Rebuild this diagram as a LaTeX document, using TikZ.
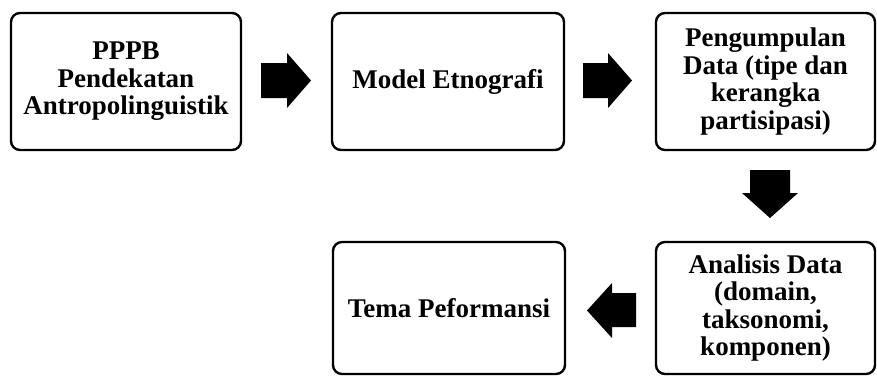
\documentclass[tikz,border=0pt]{standalone}
\usepackage{fontspec}
\setmainfont{Liberation Serif}
\tikzset{
  stagebox/.style={draw, line width=2.4pt, rounded corners=9pt, align=center,
    inner sep=0pt, font=\bfseries\fontsize{27}{27.5}\selectfont}
}
\begin{document}
\begin{tikzpicture}[x=1pt,y=-1pt]

    % Fix the page to the size of the picture
    \useasboundingbox (0,0) rectangle (877,376);

    % Boxes of the top row
    \node[stagebox, minimum width=230pt, minimum height=137pt] (ppb) at (126,81.5)
        {PPPB\\Pendekatan\\Antropolinguistik};
    \node[stagebox, minimum width=232pt, minimum height=137pt] (etno) at (448,81.5)
        {Model Etnografi};
    \node[stagebox, minimum width=219pt, minimum height=137pt] (kumpul) at (765.5,81.5)
        {Pengumpulan\\Data (tipe dan\\kerangka\\partisipasi)};

    % Boxes of the bottom row
    \node[stagebox, minimum width=219pt, minimum height=132pt] (analisis) at (765.5,308)
        {Analisis Data\\(domain,\\taksonomi,\\komponen)};
    \node[stagebox, minimum width=232pt, minimum height=132pt] (tema) at (449,308)
        {Tema Peformansi};

    % Block arrow from PPPB to Model Etnografi
    \fill (261,63) -- (287,63) -- (287,53) -- (311,80.5) -- (287,108)
        -- (287,98) -- (261,98) -- cycle;

    % Block arrow from Model Etnografi to Pengumpulan Data
    \fill (583,63) -- (608,63) -- (608,53) -- (632,80.5) -- (608,108)
        -- (608,98) -- (583,98) -- cycle;

    % Block arrow down to Analisis Data
    \fill (750,170) -- (790,170) -- (790,193) -- (798,193) -- (770,218)
        -- (742,193) -- (750,193) -- cycle;

    % Block arrow left to Tema Peformansi
    \fill (636,293) -- (612,293) -- (612,283) -- (587,310.5) -- (612,338)
        -- (612,327) -- (636,327) -- cycle;

\end{tikzpicture}
\end{document}
